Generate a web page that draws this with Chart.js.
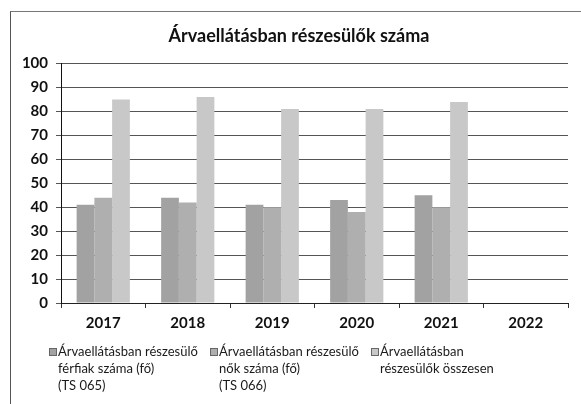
<!DOCTYPE html>
<html>
<head>
<meta charset="utf-8">
<script src="https://cdn.jsdelivr.net/npm/chart.js@4"></script>
<style>
html, body { margin: 0; padding: 0; background: #fff; }
#wrap { position: relative; width: 581px; height: 404px; overflow: hidden; }
#frame { position: absolute; left: 10px; top: 11px; width: 620px; height: 450px; border-left: 1px solid #555; border-top: 1px solid #777; }
#summaryChart { position: absolute; left: 0; top: 0; }
#legend { position: absolute; top: 343px; left: 0; width: 581px; font-family: Lato, sans-serif; font-size: 13px; color: #1a1a1a; line-height: 17px; }
.item { position: absolute; top: 0; }
.box { position: absolute; left: 0; top: 5px; width: 6px; height: 6px; border: 1px solid #666; }
.txt { position: absolute; left: 9px; top: 0; white-space: nowrap; }
</style>
</head>
<body>
<div id="wrap">
  <div id="frame"></div>
  <canvas id="summaryChart" width="581" height="404"></canvas>
  <div id="legend"></div>
</div>
<script>
// adatok
const years = ["2017", "2018", "2019", "2020", "2021", "2022"];
const ferfiak = [41, 44, 41, 43, 45, 0];
const nok = [44, 42, 40, 38, 40, 0];
const osszesen = [85, 86, 81, 81, 84, 0];
const yTicks = [0, 10, 20, 30, 40, 50, 60, 70, 80, 90, 100];

const seriesNames = [
  ["Árvaellátásban részesülő", "férfiak száma (fő)", "(TS 065)"],
  ["Árvaellátásban részesülő", "nők száma (fő)", "(TS 066)"],
  ["Árvaellátásban", "részesülők összesen"]
];
const seriesColors = ["#a2a2a2", "#afafaf", "#c8c8c8"];
const legendX = [49, 210, 371];

// a cím a kereten belül középre kerüljön, ne a teljes vászon közepére
const titleShift = {
  id: "titleShift",
  afterLayout(chart) {
    if (chart.titleBlock) chart.titleBlock.left = 30;
  }
};

const ctx = document.getElementById("summaryChart").getContext("2d");
const chart = new Chart(ctx, {
  type: "bar",
  data: {
    labels: years,
    datasets: [ferfiak, nok, osszesen].map((d, i) => ({
      label: seriesNames[i].join(" "),
      data: d,
      backgroundColor: seriesColors[i],
      borderWidth: 0,
      categoryPercentage: 0.63,
      barPercentage: 1.0
    }))
  },
  plugins: [titleShift],
  options: {
    responsive: false,
    animation: false,
    layout: { padding: { left: 0, right: 13, top: 0, bottom: 71 } },
    plugins: {
      legend: { display: false },
      tooltip: { enabled: false },
      title: {
        display: true,
        text: "Árvaellátásban részesülők száma",
        color: "#111",
        font: { family: "Lato", size: 18, weight: "bold" },
        padding: { top: 25, bottom: 17 }
      }
    },
    scales: {
      x: {
        afterFit: s => { s.height = 30; },
        grid: { display: true, drawOnChartArea: false, drawTicks: true, tickLength: 5, color: "#333", offset: true },
        border: { color: "#222", width: 1 },
        ticks: { color: "#111", padding: 6, font: { family: "Lato", size: 15, weight: "bold" } }
      },
      y: {
        min: 0,
        max: 100,
        afterFit: s => { s.width = 61; },
        afterBuildTicks: s => { s.ticks = yTicks.map(v => ({ value: v })); },
        grid: { color: "#555", tickLength: 5 },
        border: { color: "#111", width: 1 },
        ticks: { color: "#111", padding: 8, font: { family: "Lato", size: 15, weight: "bold" } }
      }
    }
  }
});

// jelmagyarázat
const legend = document.getElementById("legend");
seriesNames.forEach((lines, i) => {
  const item = document.createElement("div");
  item.className = "item";
  item.style.left = legendX[i] + "px";
  item.innerHTML = `<span class="box" style="background:${seriesColors[i]}"></span>` +
    `<span class="txt">${lines.join("<br>")}</span>`;
  legend.appendChild(item);
});
</script>
</body>
</html>
